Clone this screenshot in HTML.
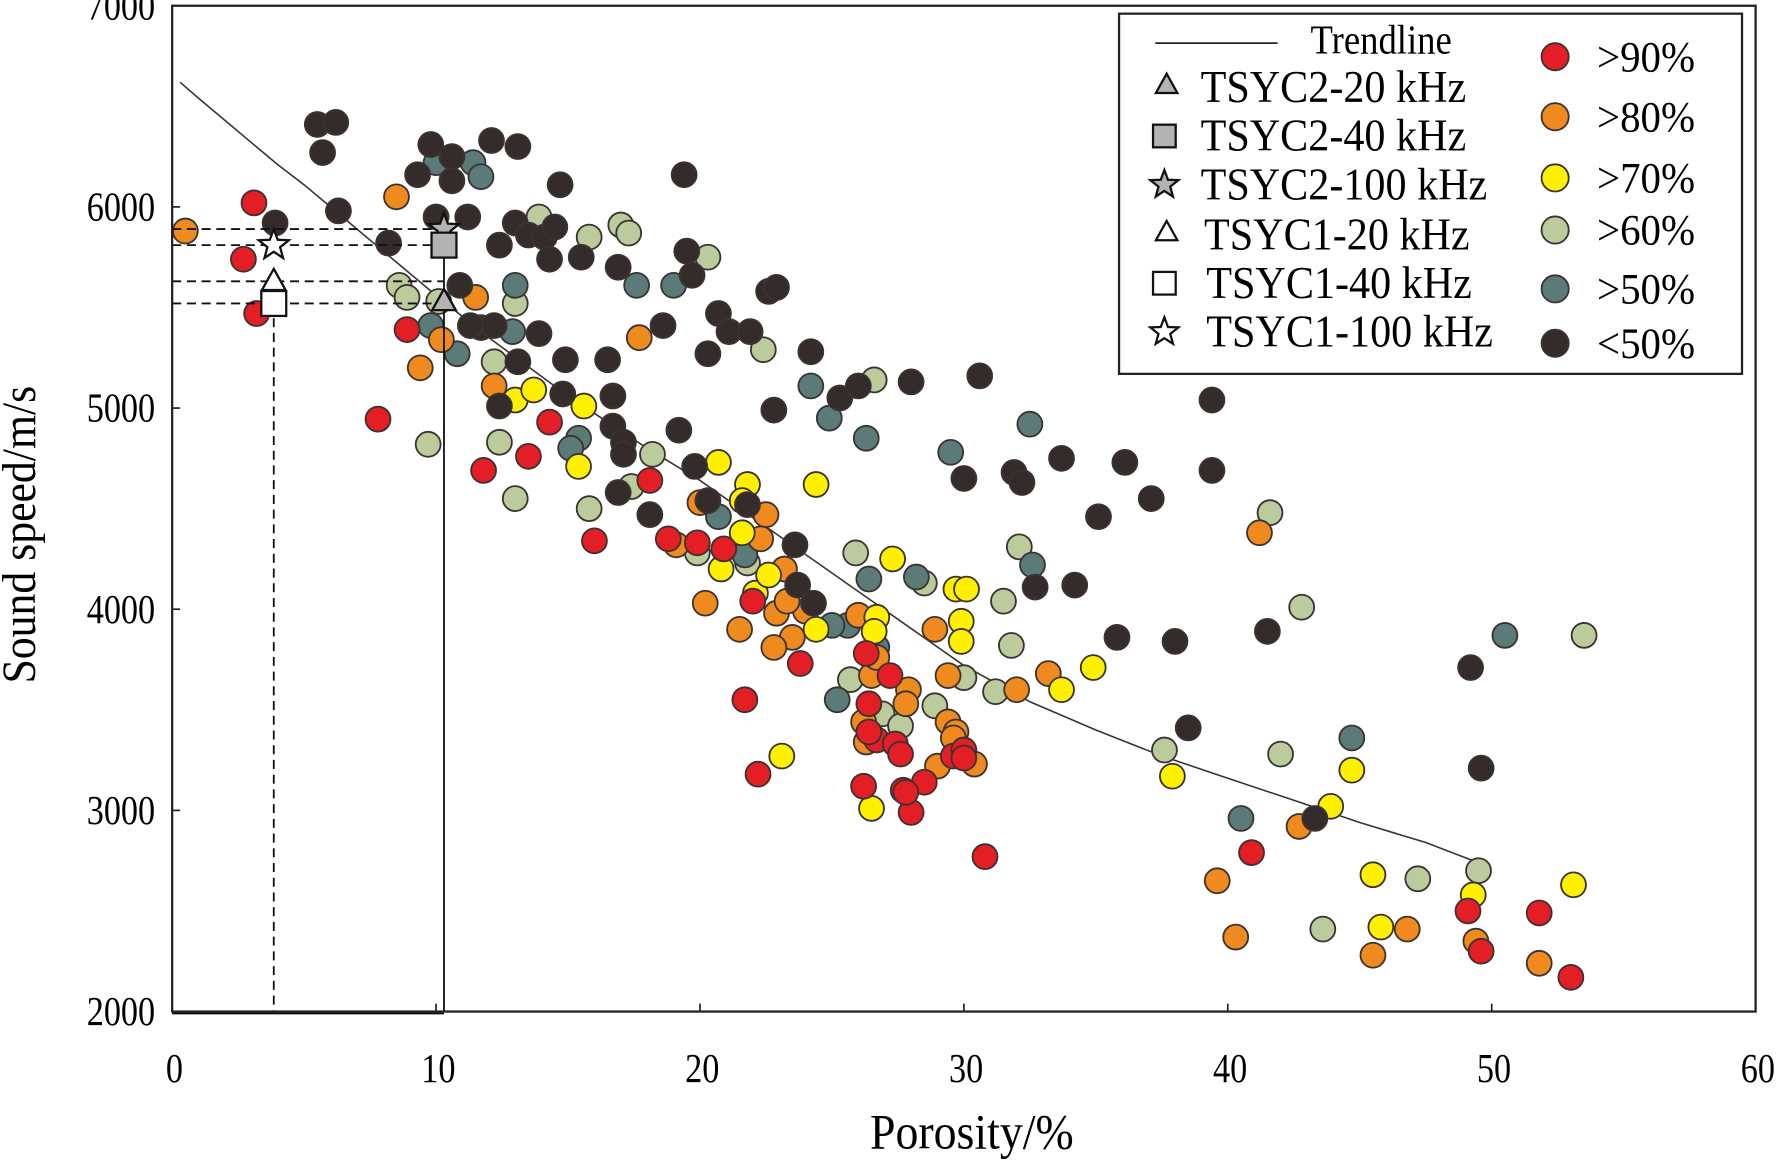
<!DOCTYPE html>
<html><head><meta charset="utf-8"><title>Sound speed vs porosity</title>
<style>
html,body{margin:0;padding:0;background:#fff;}
svg{display:block;font-family:"Liberation Serif",serif;}
</style></head>
<body>
<svg id="chart" width="1776" height="1160" viewBox="0 0 1568 1024" xmlns="http://www.w3.org/2000/svg">
<g id="plot"></g>
<g id="axes"></g>
<g id="legend"></g>
</svg>
<script>
// ---- data ----
const redX=[3.1,2.7,3.2,8.9,7.8,11.8,13.5,14.3,16.0,18.1,18.8,19.9,20.9,22.0,21.7,22.2,23.8,26.3,26.4,26.7,27.2,27.4,27.6,26.2,27.7,28.0,28.5,29.6,30.0,30.8,40.9,49.1,49.6,51.8,53.0,26.4,27.8,30.0];
const redY=[6020,5740,5470,5390,4945,4690,4760,4930,4340,4640,4350,4330,4300,4040,3550,3180,3730,3780,3530,3350,3670,3330,3280,3120,3100,2990,3140,3270,3300,2770,2790,2500,2300,2490,2170,3390,3090,3260];
const orangeX=[0.5,8.5,11.5,10.2,9.4,12.2,17.7,19.1,20.0,20.2,21.5,22.5,22.3,23.2,22.9,23.5,22.8,24.0,26.0,26.2,26.3,26.5,27.9,27.8,28.9,29.0,29.4,29.4,29.7,29.6,30.4,32.0,33.2,41.2,39.6,40.3,42.7,45.5,46.8,49.4,51.8,23.3,26.7];
const orangeY=[5880,6050,5550,5340,5200,5110,5350,4320,4530,4030,3900,4470,4350,4200,3980,3860,3810,3990,3970,3440,3340,3670,3600,3530,3900,3220,3670,3440,3390,3360,3230,3600,3680,4380,2650,2370,2920,2280,2410,2350,2240,4040,3760];
const yellowX=[13.0,13.7,15.6,15.4,20.7,21.8,21.6,20.8,24.4,22.1,22.6,24.4,26.7,26.6,27.3,29.7,29.9,29.9,30.1,34.9,33.7,23.1,26.5,37.9,43.9,44.7,45.5,45.8,49.3,53.1,21.6];
const yellowY=[5040,5090,5010,4710,4730,4620,4540,4200,4620,4080,4170,3900,3960,3890,4250,4100,3940,3840,4100,3710,3600,3270,3010,3170,3020,3200,2680,2420,2580,2630,4380];
const greenX=[8.6,8.9,10.1,12.2,12.4,13.0,13.0,13.9,15.8,17.0,17.3,20.3,22.4,26.6,18.2,15.8,17.4,19.9,21.8,25.9,28.5,31.5,32.1,31.8,30.0,31.2,25.7,26.9,27.6,28.9,37.6,42.0,43.6,47.2,49.5,41.6,42.8,53.5,9.7];
const greenY=[5610,5550,5530,5230,4830,4550,5520,5950,5850,5910,5870,5750,5290,5140,4770,4500,4610,4280,4230,4280,4130,4040,4310,3820,3660,3590,3650,3480,3420,3520,3300,3280,2410,2660,2700,4480,4010,3870,4820];
const tealX=[10.0,11.4,11.7,9.8,10.8,13.0,12.9,17.6,19.0,24.2,24.9,26.3,15.4,15.1,20.7,21.7,25.6,25.0,25.2,26.4,26.7,28.2,29.5,32.5,32.6,40.5,44.7,50.5];
const tealY=[6220,6220,6150,5410,5270,5610,5380,5610,5610,5110,4950,4850,4850,4800,4460,4270,3920,3920,3550,4150,3810,4160,4780,4920,4220,2960,3360,3870];
const darkX=[5.5,6.2,5.7,6.3,8.2,3.9,9.3,9.8,10.0,10.6,10.6,11.2,10.9,11.7,11.3,12.1,12.4,12.2,12.4,13.1,13.0,13.5,13.1,13.9,14.1,14.3,14.5,14.7,14.9,14.8,15.5,16.5,16.9,16.7,16.7,17.1,17.1,16.9,18.1,18.6,19.2,19.4,19.5,19.7,19.8,20.3,20.3,20.7,21.1,21.9,21.8,22.6,22.9,22.8,23.6,23.7,24.3,24.2,25.3,26.0,28.0,30.6,30.0,31.9,32.2,32.7,33.7,34.2,35.1,36.1,37.1,35.8,38.0,38.5,39.4,39.4,41.5,43.3,49.2,49.6];
const darkY=[6410,6420,6270,5980,5820,5920,6160,6310,5950,6250,6130,5950,5610,5400,5410,6330,5810,5410,5010,6300,5920,5860,5230,5370,5850,5740,5900,6110,5240,5070,5750,5240,5700,5060,4910,4830,4770,4580,4470,5410,4890,6160,5780,5660,4710,5270,4540,5470,5380,5380,4520,5580,5600,4990,4320,4120,4030,5280,5050,5110,5130,5160,4650,4680,4630,4110,4750,4120,4460,4730,4550,3860,3840,3410,5040,4690,3890,2960,3710,3210];
const trendX=[0.3,1,2,3,4,5,6,8,10,12,15,18,20,22.5,25,27.5,30,32.5,35,37.5,40,42.5,45,47.5,49.5];
const trendY=[6620,6540,6430,6320,6210,6110,6000,5780,5560,5350,5060,4800,4640,4410,4180,3950,3720,3540,3400,3270,3160,3050,2940,2840,2740];
const xTicks=[0,10,20,30,40,50,60];
const yTicks=[2000,3000,4000,5000,6000,7000];
const seriesNames=[">90%",">80%",">70%",">60%",">50%","<50%"];
const seriesColors=["#e31e24","#ef8a1e","#ffef00","#bccb9c","#5a7b78","#332c2b"];

// ---- scales ----
const X0=152,X1=1550,Y0=893,Y1=5;
const sx=v=>X0+(v-0)/(60-0)*(X1-X0);
const sy=v=>Y0-(v-2000)/(7000-2000)*(Y0-Y1);
const NS="http://www.w3.org/2000/svg";
function mk(tag,attrs,parent){const e=document.createElementNS(NS,tag);for(const k in attrs)e.setAttribute(k,attrs[k]);parent.appendChild(e);return e;}
function ctext(x,y,size,anchor,str,parent,sc){const t=mk('text',{x:0,y:0,'font-size':size,'text-anchor':anchor,transform:`translate(${x},${y}) scale(${sc},1)`},parent);t.textContent=str;return t;}
const plot=document.getElementById('plot'),axes=document.getElementById('axes'),legend=document.getElementById('legend');

// trendline
let d=trendX.map((x,i)=>(i?'L':'M')+sx(x).toFixed(1)+','+sy(trendY[i]).toFixed(1)).join(' ');
const tl=mk('path',{d:d,fill:'none',stroke:'#3a3332','stroke-width':1.4},plot);



// points
const allX=[redX,orangeX,yellowX,greenX,tealX,darkX],allY=[redY,orangeY,yellowY,greenY,tealY,darkY];
const order=[3,4,1,2,0,5];
order.forEach(s=>{
  allX[s].forEach((x,i)=>{
    const c=mk('circle',{cx:sx(x),cy:sy(allY[s][i]),r:11,fill:seriesColors[s],stroke:'#3a3332','stroke-width':1.6},plot);
    
    
  });
});

// reference dashed lines
const refY=[5890,5810,5630,5520];
refY.forEach(v=>{const l=mk('line',{x1:X0,x2:sx(10.3),y1:sy(v),y2:sy(v),stroke:'#111','stroke-width':1.6,'stroke-dasharray':'8,5'},plot);

});
let vl=mk('line',{x1:sx(3.85),x2:sx(3.85),y1:sy(5520),y2:Y0,stroke:'#111','stroke-width':1.6,'stroke-dasharray':'8,5'},plot);


let vs=mk('line',{x1:sx(10.3),x2:sx(10.3),y1:sy(5870),y2:Y0,stroke:'#111','stroke-width':1.6},plot);


let bs=mk('line',{x1:X0,x2:sx(10.3),y1:Y0+1,y2:Y0+1,stroke:'#111','stroke-width':3},plot);



function star(cx,cy,r,fill,parent){let p=[];for(let i=0;i<10;i++){const a=-Math.PI/2+i*Math.PI/5,rr=i%2?r*0.42:r;p.push((cx+rr*Math.cos(a)).toFixed(1)+','+(cy+rr*Math.sin(a)).toFixed(1));}
return mk('polygon',{points:p.join(' '),fill:fill,stroke:'#111','stroke-width':2},parent);}
function tri(cx,cy,r,fill,parent){return mk('polygon',{points:`${cx},${cy-r} ${cx-r*0.95},${cy+r*0.7} ${cx+r*0.95},${cy+r*0.7}`,fill:fill,stroke:'#111','stroke-width':2},parent);}
function sq(cx,cy,r,fill,parent){return mk('rect',{x:cx-r,y:cy-r,width:2*r,height:2*r,fill:fill,stroke:'#111','stroke-width':2},parent);}

// sample markers
let m;
m=star(sx(3.85),sy(5810),14,'#fff',plot);
m=tri(sx(3.85),sy(5630),11,'#fff',plot);
m=sq(sx(3.85),sy(5520),11,'#fff',plot);
m=star(sx(10.3),sy(5890),14,'#b3b3b3',plot);
m=sq(sx(10.3),sy(5810),11,'#b3b3b3',plot);
m=tri(sx(10.3),sy(5530),11,'#b3b3b3',plot);

// frame & axes
let fr=mk('rect',{x:X0,y:Y1,width:X1-X0,height:Y0-Y1,fill:'none',stroke:'#222','stroke-width':2},axes);


xTicks.forEach(v=>{
  const t=mk('line',{x1:sx(v),x2:sx(v),y1:Y0,y2:Y0-7,stroke:'#222','stroke-width':1.5},axes);
  
  
  const tx=ctext(sx(v)+2,955,36,'middle',String(v),axes,0.84);
  
  
});
yTicks.forEach(v=>{
  const t=mk('line',{x1:X0,x2:X0+7,y1:sy(v),y2:sy(v),stroke:'#222','stroke-width':1.5},axes);
  
  
  const tx=ctext(137,sy(v)+12,36,'end',String(v),axes,0.84);
  
  
});
let xl=ctext(858,1014,44,'middle','Porosity/%',axes,0.92);


let yl=mk('text',{x:0,y:0,'text-anchor':'middle','font-size':42,transform:'translate(31,472) rotate(-90) scale(0.92,1)'},axes);yl.textContent='Sound speed/m/s';



// legend
let lb=mk('rect',{x:988,y:12,width:550,height:318,fill:'#fff',stroke:'#222','stroke-width':2},legend);


let ll=mk('line',{x1:1020,x2:1128,y1:38,y2:38,stroke:'#222','stroke-width':1.5},legend);


let lt=ctext(1157,47,36,'start','Trendline',legend,0.9);


const symRows=[['tri','#b3b3b3','TSYC2-20 kHz',77,1060],['sq','#b3b3b3','TSYC2-40 kHz',120,1060],['star','#b3b3b3','TSYC2-100 kHz',163,1060],['tri','#fff','TSYC1-20 kHz',207,1063],['sq','#fff','TSYC1-40 kHz',250,1065],['star','#fff','TSYC1-100 kHz',293,1065]];
symRows.forEach(r=>{
  const s=r[0]==='tri'?tri(1030,r[3]-2,10,r[1],legend):r[0]==='sq'?sq(1028,r[3],10,r[1],legend):star(1028,r[3],13,r[1],legend);
  
  
  const t=ctext(r[4],r[3]+13,40,'start',r[2],legend,0.93);
  
  
});
const legY=[50,103,157,203,255,303];
seriesNames.forEach((n,i)=>{
  const c=mk('circle',{cx:1373,cy:legY[i],r:12,fill:seriesColors[i],stroke:'#3a3332','stroke-width':1.6},legend);
  
  
  const t=ctext(1410,legY[i]+13,38,'start',n,legend,0.95);
  
  
});
</script>
</body></html>
